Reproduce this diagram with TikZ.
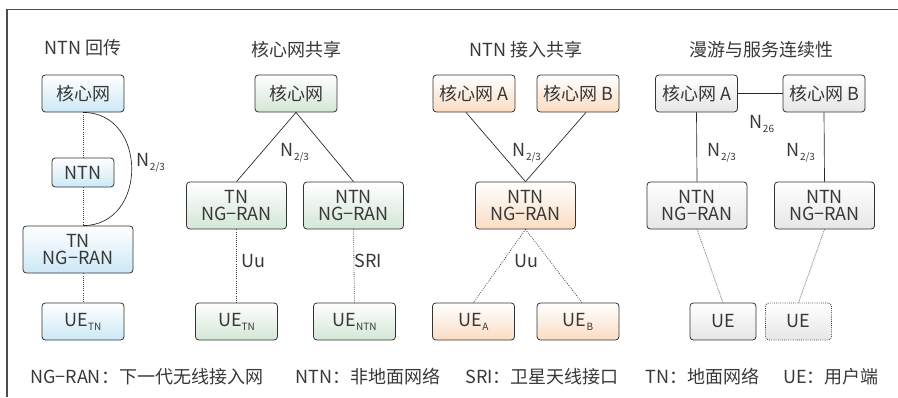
\documentclass[tikz,border=0pt]{standalone}
\usepackage{fontspec}
\setmainfont{Noto Sans CJK SC}
\usetikzlibrary{positioning}
\definecolor{blueB}{HTML}{CCE8F6}
\definecolor{greenB}{HTML}{D3E6D5}
\definecolor{orangeB}{HTML}{FBDCC2}
\definecolor{grayB}{HTML}{E6E6E6}
\definecolor{txt}{HTML}{383838}
\newcommand{\lowidx}[1]{\raisebox{-0.4ex}{\fontsize{7.5}{7.5}\selectfont #1}}
\begin{document}
\begin{tikzpicture}[x=0.75pt,y=-0.75pt,
  font=\fontsize{13.5}{13}\selectfont, text=txt,
  box/.style={draw=black!80, line width=0.6pt, rounded corners=2.5pt, inner sep=0pt, align=center},
  cnbox/.style={box, minimum width=61.5pt, minimum height=27.75pt},
  ranbox/.style={box, minimum width=75pt, minimum height=35.25pt},
  uebox/.style={box, minimum width=61.5pt, minimum height=27.75pt},
  blue/.style={top color=white, bottom color=blueB},
  green/.style={top color=white, bottom color=greenB},
  orange/.style={top color=white, bottom color=orangeB},
  grey/.style={top color=white, bottom color=grayB},
  link/.style={draw=black!85, line width=0.5pt},
  air/.style={draw=black!75, line width=0.6pt, densely dotted}]
\useasboundingbox (0,0) rectangle (898,397);
% frame
\draw[black!70, line width=1pt] (7,397) -- (7,9.5) -- (898,9.5);

% NTN backhaul
\node (t1) at (83,48) {NTN 回传};
\node[cnbox,blue] (cn1) at (83,93.5) {核心网};
\node[box,blue,minimum width=46.5pt,minimum height=21.75pt] (ntn1) at (83,172.5) {NTN};
\node[ranbox,blue,minimum width=82.5pt] (ran1) at (78,249.5) {TN\\NG−RAN};
\node[uebox,blue] (ue1) at (83,321.5) {UE\lowidx{TN}};
\draw[air] (cn1.south) -- (ntn1.north);
\draw[air] (ntn1.south) -- (ntn1.south |- ran1.north);
\draw[air] (ran1.south -| ue1.north) -- (ue1.north);
\draw[link] (cn1.south) .. controls +(65,0) and +(65,0) .. (cn1.south |- ran1.north);
\node (n1) at (151,163) {N\lowidx{2/3}};

% core network sharing
\node (t2) at (296,50) {核心网共享};
\node[cnbox,green] (cn2) at (296,93.5) {核心网};
\node[ranbox,green] (ran2a) at (236.5,205.5) {TN\\NG−RAN};
\node[ranbox,green] (ran2b) at (353.5,205.5) {NTN\\NG−RAN};
\node[uebox,green] (ue2a) at (236.5,321.5) {UE\lowidx{TN}};
\node[uebox,green] (ue2b) at (354.5,321.5) {UE\lowidx{NTN}};
\draw[link] (cn2.south) -- (ran2a.north);
\draw[link] (cn2.south) -- (ran2b.north);
\draw[air] (ran2a.south) -- (ue2a.north);
\draw[air] (ran2b.south) -- (ue2b.north);
\node (n2) at (295,153) {N\lowidx{2/3}};
\node (uu2) at (253,261) {Uu};
\node (sri2) at (368,261) {SRI};

% NTN access sharing
\node (t3) at (526,50) {NTN 接入共享};
\node[cnbox,orange] (cn3a) at (474,93.5) {核心网 A};
\node[cnbox,orange] (cn3b) at (578,93.5) {核心网 B};
\node[ranbox,orange] (ran3) at (525.5,205.5) {NTN\\NG−RAN};
\node[uebox,orange] (ue3a) at (473.5,321.5) {UE\lowidx{A}};
\node[uebox,orange] (ue3b) at (578,321.5) {UE\lowidx{B}};
\draw[link] ([xshift=-6pt]cn3a.south) -- (ran3.north);
\draw[link] ([xshift=6pt]cn3b.south) -- (ran3.north);
\draw[air] (ran3.south) -- (ue3a.north);
\draw[air] (ran3.south) -- ([xshift=3pt]ue3b.north);
\node (n3) at (527,153) {N\lowidx{2/3}};
\node (uu3) at (526,261) {Uu};

% roaming and service continuity
\node (t4) at (761,50) {漫游与服务连续性};
\node[cnbox,grey] (cn4a) at (696.5,93.5) {核心网 A};
\node[cnbox,grey] (cn4b) at (824,93.5) {核心网 B};
\node[ranbox,grey] (ran4a) at (697,205.5) {NTN\\NG−RAN};
\node[ranbox,grey] (ran4b) at (824.5,205.5) {NTN\\NG−RAN};
\node[uebox,grey,minimum width=49.5pt] (ue4a) at (723,321.5) {UE};
\node[uebox,grey,minimum width=49.5pt,densely dotted] (ue4b) at (798.5,321.5) {UE};
\draw[link] (cn4a.east) -- (cn4b.west);
\draw[link] (cn4a.south) -- (ran4a.north);
\draw[link] (cn4b.south) -- (ran4b.north);
\draw[air] (ran4a.south) -- (ue4a.north);
\draw[air] (ran4b.south) -- (ue4b.north);
\node (n26) at (762,124) {N\lowidx{26}};
\node (n4a) at (722,153) {N\lowidx{2/3}};
\node (n4b) at (801,153) {N\lowidx{2/3}};

% legend
\node[anchor=west,inner sep=0pt] (lg1) at (30,377) {NG−RAN：下一代无线接入网};
\node[anchor=west,inner sep=0pt] (lg2) at (295,377) {NTN：非地面网络};
\node[anchor=west,inner sep=0pt] (lg3) at (465,377) {SRI：卫星天线接口};
\node[anchor=west,inner sep=0pt] (lg4) at (645,377) {TN：地面网络};
\node[anchor=west,inner sep=0pt] (lg5) at (783,377) {UE：用户端};
\end{tikzpicture}
\end{document}
